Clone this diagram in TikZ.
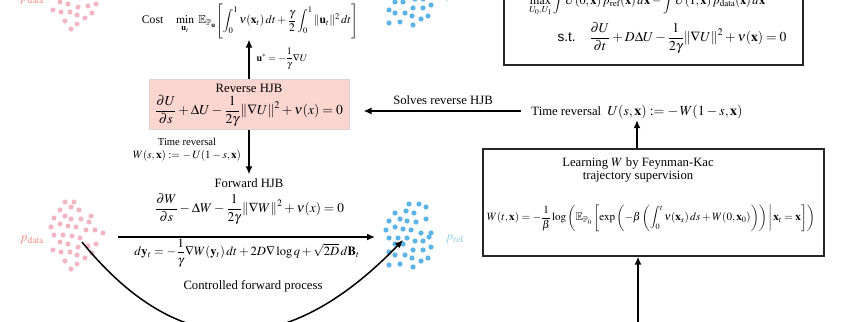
\documentclass[tikz,border=0pt]{standalone}
\usepackage{amsmath,amssymb}
\usepackage{mathptmx}
\usepackage{fontspec}
\setmainfont{Liberation Serif}
\setsansfont{Liberation Sans}
\usetikzlibrary{arrows.meta,calc}
\definecolor{pinkdot}{HTML}{F2B6C3}
\definecolor{pinklab}{HTML}{F4877F}
\definecolor{bluedot}{HTML}{5BB5E6}
\definecolor{bluelab}{HTML}{8FCBEC}
\definecolor{boxpink}{HTML}{FBD5D0}
\definecolor{boxedge}{HTML}{D9D2D0}
\newcommand\fitmath[2]{\resizebox{#1pt}{!}{$\displaystyle #2$}}
\newcommand\pinkcluster[1]{%
  \foreach \px/\py in {65/202,74/202,71/207,60/210,79/210,54/218,65/216,71/219,81/219,91/216,51/227,60/224,68/226,76/227,89/222,54/235,63/235,72/236,80/238,86/230,95/230,103/233,60/242,68/244,78/247,88/246,96/244,53/250,61/252,70/252,77/255,92/253,65/261,77/264,85/258,71/269}
    {\fill[pinkdot] (\px,\py+#1) circle (2.6pt);}}
\newcommand\bluecluster[1]{%
  \foreach \px/\py in {409/204,419/204,426/207,395/213,406/211,414/213,426/219,389/221,400/219,407/221,416/222,386/230,395/227,403/229,411/230,421/233,431/233,389/238,398/238,407/238,415/241,423/241,429/237,395/244,403/244,389/252,395/255,405/255,413/250,423/250,431/247,412/258,421/261,428/258,389/265,400/264,413/267}
    {\fill[bluedot] (\px,\py+#1) circle (2.6pt);}}
\begin{document}
\begin{tikzpicture}[x=1pt,y=-1pt,
  font=\fontsize{12.7}{15}\selectfont,
  arr/.style={line width=1.5pt,-{Latex[length=8pt,width=7pt]}},
  txt/.style={inner sep=0pt},
  small/.style={inner sep=0pt,font=\fontsize{10.6}{12.5}\selectfont},
  frame/.style={draw=black!85,line width=1.3pt,inner sep=0pt},
  pinkbox/.style={draw=boxedge,fill=boxpink,line width=1pt,inner sep=0pt,minimum width=200pt,minimum height=50pt}]
\useasboundingbox (0,0) rectangle (845,321);
\clip (0,0) rectangle (845,321);

% point clouds
\pinkcluster{0}
\pinkcluster{-240}
\bluecluster{0}
\bluecluster{-242}
\node[txt,text=pinklab] (pdlab) at (32,240) {$p_{\mathrm{data}}$};
\node[txt,text=pinklab] (pdlabtop) at (32,0) {$p_{\mathrm{data}}$};
\node[txt,text=bluelab] (prlab) at (455,239) {$p_{\mathrm{ref}}$};
\node[txt,text=bluelab] (prlabtop) at (455,-3) {$p_{\mathrm{ref}}$};

% left column
\node[txt] (cost) at (250,21) {\fitmath{216}{\text{Cost}\quad \min_{\mathbf{u}_t}\ \mathbb{E}_{\mathbb{P}_{\mathbf{u}}}\Biggl[\int_0^1 \nu(\mathbf{x}_t)\,dt+\frac{\gamma}{2}\int_0^1\|\mathbf{u}_t\|^2\,dt\Biggr]}};
\node[pinkbox] (rev) at (249,104) {};
\node[txt] (revt) at (249,88) {Reverse HJB};
\node[txt] (reveq) at (249,111) {\fitmath{188}{\frac{\partial U}{\partial s}+\Delta U-\frac{1}{2\gamma}\|\nabla U\|^2+\nu(x)=0}};
\node[txt] (ustar) at (282,59) {\fitmath{51}{\mathbf{u}^{*}=-\frac{1}{\gamma}\nabla U}};
\draw[arr,shorten >=1pt] (rev.north) -- (cost.south -| rev.north);

\node[small] (trl1) at (187,142) {Time reversal};
\node[small] (trl2) at (187,156) {\fitmath{108}{W(s,\mathbf{x}):=-\,U(1-s,\mathbf{x})}};
\node[txt] (fwdt) at (249,183) {Forward HJB};
\draw[arr] (rev.south) -- ($(fwdt.north)+(0,-4)$);
\node[txt] (fwdeq) at (249.5,209) {\fitmath{189}{\frac{\partial W}{\partial s}-\Delta W-\frac{1}{2\gamma}\|\nabla W\|^2+\nu(x)=0}};

\coordinate (hs) at (118,237);
\coordinate (he) at (375,237);
\draw[arr] (hs) -- (he);
\node[txt] (dyeq) at (247,253) {\fitmath{225}{d\mathbf{y}_t=-\frac{1}{\gamma}\nabla W(\mathbf{y}_t)\,dt+2D\nabla\log q+\sqrt{2D}\,d\mathbf{B}_t}};
\node[txt] (cfp) at (253,286) {Controlled forward process};

\coordinate (cs) at (82,242);
\coordinate (ce) at (403,240);
\draw[arr] (cs) .. controls (179,361) and (286,361) .. (ce);

% right column
\node[frame,minimum width=299pt,minimum height=105pt] (topbox) at (653.5,12.5) {};
\node[txt,anchor=south west] (obj) at (529,16) {\fitmath{236}{\max_{U_0,U_1}\int U(0,\mathbf{x})\,p_{\mathrm{ref}}(\mathbf{x})\,d\mathbf{x}-\int U(1,\mathbf{x})\,p_{\mathrm{data}}(\mathbf{x})\,d\mathbf{x}}};
\node[txt] (st) at (672,38) {\fitmath{229}{\text{\sffamily s.t.}\quad\frac{\partial U}{\partial t}+D\Delta U-\frac{1}{2\gamma}\|\nabla U\|^2+\nu(\mathbf{x})=0}};

\node[txt,inner sep=1pt] (trr) at (637,112) {Time reversal\ \ \fitmath{135}{U(s,\mathbf{x}):=-\,W(1-s,\mathbf{x})}};
\node[txt] (solves) at (443,100) {Solves reverse HJB};
\coordinate (sa) at ($(trr.west)+(-9,-1)$);
\draw[arr,shorten >=14pt] (sa) -- (sa -| rev.east);

\node[frame,minimum width=341pt,minimum height=107pt] (fk) at (653.5,202.5) {};
\node[txt] (fkt1) at (638,163) {Learning $W$ by Feynman-Kac};
\node[txt] (fkt2) at (638,177) {trajectory supervision};
\node[txt] (fkeq) at (651,218) {\fitmath{328}{W(t,\mathbf{x})=-\frac{1}{\beta}\log\left(\mathbb{E}_{\mathbb{P}_0}\left[\exp\left(-\beta\left(\int_0^t\nu(\mathbf{x}_s)\,ds+W(0,\mathbf{x}_0)\right)\right)\,\middle|\,\mathbf{x}_t=\mathbf{x}\right]\right)}};
\draw[arr] (trr.south |- fk.north) -- (trr.south);
\coordinate (fkin) at (638,340);
\draw[arr] (fkin) -- (fkin |- fk.south);
\end{tikzpicture}
\end{document}
